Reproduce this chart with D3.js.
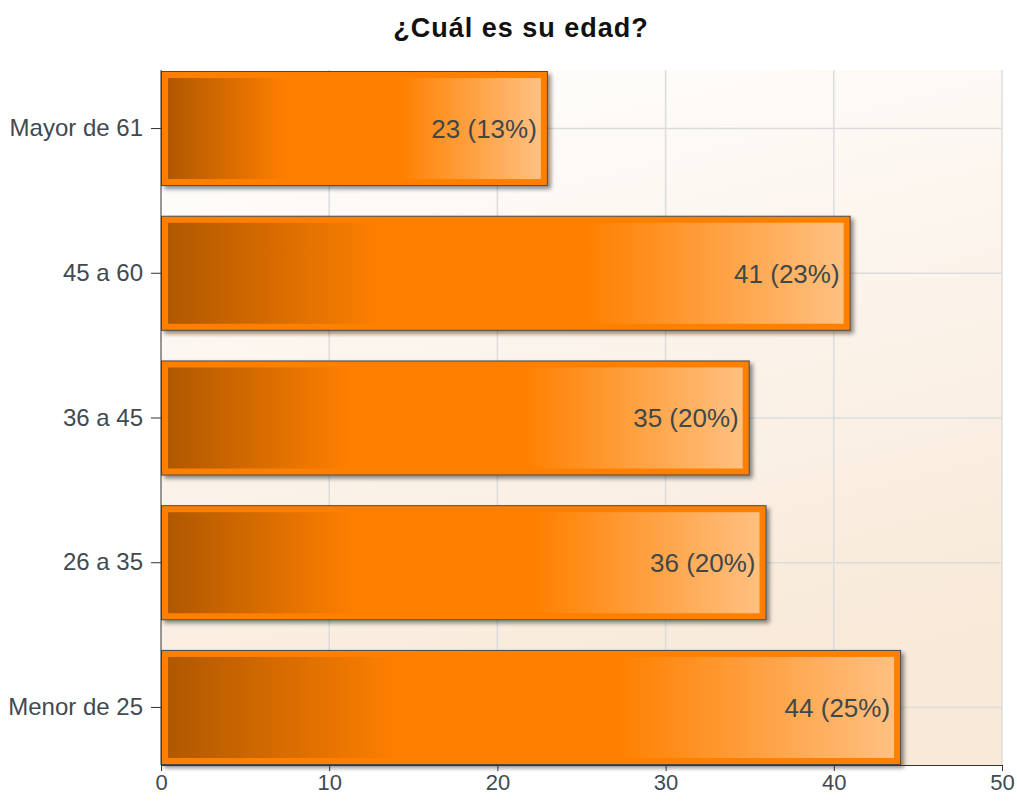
<!DOCTYPE html>
<html>
<head>
<meta charset="utf-8">
<script src="https://cdn.jsdelivr.net/npm/d3@7"></script>
<style>
  body { margin: 0; background: #fff; }
  svg { font-family: "Liberation Sans", Arial, sans-serif; }
</style>
</head>
<body>
<div id="chart"></div>
<script>
// data
const categories = ['Mayor de 61', '45 a 60', '36 a 45', '26 a 35', 'Menor de 25']
const counts = [23, 41, 35, 36, 44]
const percents = ['13%', '23%', '20%', '20%', '25%']
const xTicks = [0, 10, 20, 30, 40, 50]
const title = '¿Cuál es su edad?'

const width = 1017
const height = 803
const margin = { top: 71, right: 15, bottom: 38, left: 161 }

const svg = d3.select('#chart').append('svg')
    .attr('width', width)
    .attr('height', height)

const defs = svg.append('defs')

// plot background
const bg = defs.append('linearGradient')
    .attr('id', 'bg').attr('x1', 0).attr('y1', 0).attr('x2', 0.3).attr('y2', 1)
bg.append('stop').attr('offset', '0%').attr('stop-color', '#ffffff')
bg.append('stop').attr('offset', '100%').attr('stop-color', '#f8e9d8')

// bar fill
const barGrad = defs.append('linearGradient')
    .attr('id', 'bar').attr('x1', 0).attr('y1', 0).attr('x2', 1).attr('y2', 0)
barGrad.append('stop').attr('offset', '0%').attr('stop-color', '#b05800')
barGrad.append('stop').attr('offset', '32%').attr('stop-color', '#ff8000')
barGrad.append('stop').attr('offset', '62%').attr('stop-color', '#ff8000')
barGrad.append('stop').attr('offset', '100%').attr('stop-color', '#ffc080')

const shadow = defs.append('filter').attr('id', 'shadow')
    .attr('x', '-5%').attr('y', '-10%').attr('width', '115%').attr('height', '130%')
shadow.append('feDropShadow')
    .attr('dx', 3).attr('dy', 3).attr('stdDeviation', 2)
    .attr('flood-color', '#000').attr('flood-opacity', 0.45)

const x = d3.scaleLinear()
    .domain([0, 50])
    .range([margin.left, width - margin.right])

const y = d3.scaleBand()
    .domain(categories)
    .range([margin.top, height - margin.bottom])
    .paddingInner(0.205)
    .paddingOuter(0)

const plotTop = margin.top - 1
const plotBottom = height - margin.bottom

svg.append('rect')
    .attr('x', x(0)).attr('y', plotTop)
    .attr('width', x(50) - x(0)).attr('height', plotBottom - plotTop)
    .attr('fill', 'url(#bg)')

// grid
svg.append('g').selectAll('line')
    .data(xTicks.slice(1))
    .join('line')
    .attr('x1', d => x(d)).attr('x2', d => x(d))
    .attr('y1', plotTop).attr('y2', plotBottom)
    .attr('stroke', '#dcdcdc').attr('stroke-width', 1.5)

svg.append('g').selectAll('line')
    .data(categories)
    .join('line')
    .attr('x1', x(0)).attr('x2', x(50))
    .attr('y1', d => y(d) + y.bandwidth() / 2)
    .attr('y2', d => y(d) + y.bandwidth() / 2)
    .attr('stroke', '#dcdcdc').attr('stroke-width', 1.5)

// bars
const bars = svg.append('g').selectAll('g')
    .data(categories.map((c, i) => ({ cat: c, value: counts[i], pct: percents[i] })))
    .join('g')

bars.append('rect')
    .attr('x', x(0) + 0.5)
    .attr('y', d => y(d.cat) + 0.5)
    .attr('width', d => x(d.value) - x(0) - 1)
    .attr('height', y.bandwidth() - 1)
    .attr('fill', '#ff8000')
    .attr('stroke', '#4a4a4a')
    .attr('stroke-width', 1)
    .attr('filter', 'url(#shadow)')

bars.append('rect')
    .attr('x', x(0) + 7)
    .attr('y', d => y(d.cat) + 7)
    .attr('width', d => x(d.value) - x(0) - 14)
    .attr('height', y.bandwidth() - 14)
    .attr('fill', 'url(#bar)')

bars.append('text')
    .attr('x', d => x(d.value) - 11)
    .attr('y', d => y(d.cat) + y.bandwidth() / 2)
    .attr('dy', '0.36em')
    .attr('text-anchor', 'end')
    .attr('font-size', 26)
    .attr('fill', '#3f4848')
    .text(d => `${d.value} (${d.pct})`)

// axes
const yAxis = svg.append('g')
    .attr('transform', `translate(${x(0)},0)`)
    .call(d3.axisLeft(y).tickSize(10).tickPadding(8).tickSizeOuter(0))
yAxis.select('.domain').attr('stroke', '#333').attr('d', `M0,${plotTop}V${plotBottom}`)
yAxis.selectAll('.tick line').attr('stroke', '#333')
yAxis.selectAll('text').attr('font-size', 24).attr('fill', '#414a52')
    .attr('font-family', '"Liberation Sans", Arial, sans-serif')

const xAxis = svg.append('g')
    .attr('transform', `translate(0,${plotBottom})`)
    .call(d3.axisBottom(x).tickValues(xTicks).tickSize(6).tickPadding(3).tickSizeOuter(0))
xAxis.select('.domain').attr('stroke', '#333')
xAxis.selectAll('.tick line').attr('stroke', '#333')
xAxis.selectAll('text').attr('font-size', 22).attr('fill', '#414a52')
    .attr('font-family', '"Liberation Sans", Arial, sans-serif')

// title
svg.append('text')
    .attr('x', 521).attr('y', 37)
    .attr('text-anchor', 'middle')
    .attr('font-size', 27).attr('font-weight', 'bold')
    .attr('letter-spacing', 1)
    .attr('fill', '#111')
    .text(title)
</script>
</body>
</html>
